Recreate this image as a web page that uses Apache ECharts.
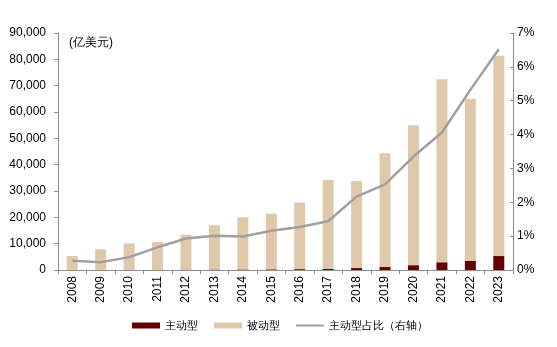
<!DOCTYPE html>
<html><head><meta charset="utf-8">
<script src="https://cdn.jsdelivr.net/npm/echarts@6/dist/echarts.min.js"></script>
<style>html,body{margin:0;padding:0;background:#fff}#c{width:557px;height:347px}</style>
</head><body><div id="c"></div>
<script>
const years = ['2008','2009','2010','2011','2012','2013','2014','2015','2016','2017','2018','2019','2020','2021','2022','2023'];
const totalAUM = [5300,7850,10100,10600,13400,17000,20000,21400,25600,34200,33800,44300,55000,72400,65000,81400];
const activeAUM = [14,18,38,71,125,172,198,248,325,490,735,1120,1850,2940,3450,5300];
const activeShare = [0.27,0.23,0.38,0.67,0.93,1.01,0.99,1.16,1.27,1.44,2.17,2.53,3.35,4.06,5.32,6.52];
const passiveAUM = totalAUM.map((t,i)=>t-activeAUM[i]);
const leftTicks = {min:0,max:90000,interval:10000};
const rightTicks = {min:0,max:7,interval:1};

const chart = echarts.init(document.getElementById('c'));
const font = 'Liberation Sans, Arial, sans-serif';
chart.setOption({
  animation:false,
  textStyle:{fontFamily:font},
  grid:{left:58,right:44,top:33,bottom:77},
  title:{text:'(亿美元)',left:64,top:32,textStyle:{fontSize:12,fontWeight:'normal',color:'#000',fontFamily:font}},
  legend:{
    left:127,top:315,itemGap:16,itemWidth:28,itemHeight:6,
    textStyle:{fontSize:11,color:'#000',fontFamily:font},
    data:[{name:'主动型',icon:'rect'},{name:'被动型',icon:'rect'},{name:'主动型占比（右轴）',icon:'path://M0,0h28v2h-28z'}]
  },
  xAxis:{
    type:'category',data:years,
    axisLine:{lineStyle:{color:'#8c8c8c'}},
    axisTick:{show:true,interval:0,length:4,lineStyle:{color:'#8c8c8c'}},
    axisLabel:{rotate:90,interval:0,fontSize:12,color:'#000',margin:6}
  },
  yAxis:[
    {type:'value',min:leftTicks.min,max:leftTicks.max,interval:leftTicks.interval,
     axisLine:{show:true,lineStyle:{color:'#8c8c8c'}},
     axisTick:{show:true,length:4,lineStyle:{color:'#8c8c8c'}},
     splitLine:{show:false},
     axisLabel:{fontSize:12,color:'#000',margin:12,formatter:v=>v.toLocaleString('en-US')}},
    {type:'value',min:rightTicks.min,max:rightTicks.max,interval:rightTicks.interval,
     axisLine:{show:true,lineStyle:{color:'#8c8c8c'}},
     axisTick:{show:true,inside:true,length:3,lineStyle:{color:'#8c8c8c'}},
     splitLine:{show:false},
     axisLabel:{fontSize:12,color:'#000',margin:4,formatter:'{value}%'}}
  ],
  series:[
    {name:'主动型',type:'bar',stack:'a',data:activeAUM,barWidth:11,itemStyle:{color:'#660000'}},
    {name:'被动型',type:'bar',stack:'a',data:passiveAUM,barWidth:11,itemStyle:{color:'#dfc9aa'}},
    {name:'主动型占比（右轴）',type:'line',yAxisIndex:1,data:activeShare,symbol:'none',
     lineStyle:{color:'#a0a0a0',width:2.5},itemStyle:{color:'#a0a0a0'}}
  ]
});
</script></body></html>
